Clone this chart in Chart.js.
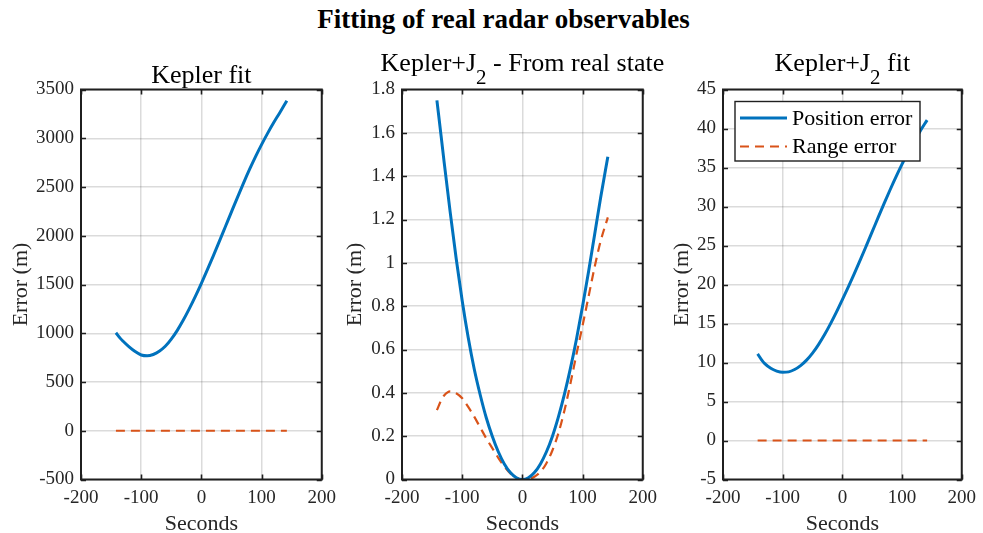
<!DOCTYPE html>
<html>
<head>
<meta charset="utf-8">
<script src="https://cdn.jsdelivr.net/npm/chart.js@4.4.1/dist/chart.umd.min.js"></script>
<style>
    html, body {
        margin: 0;
        padding: 0;
        background: #fff;
        width: 983px;
        height: 533px;
        overflow: hidden;
    }
    #main-title {
        position: absolute;
        left: 12px;
        top: 6px;
        width: 983px;
        text-align: center;
        font-family: 'Liberation Serif', 'Times New Roman', serif;
        font-weight: bold;
        font-size: 27px;
        line-height: 27px;
        color: #000;
    }
    .panel {
        position: absolute;
        top: 0;
        height: 533px;
    }
</style>
</head>
<body>
<div id="main-title">Fitting of real radar observables</div>
<div class="panel" style="left:10px;width:333px"><canvas id="kepler"></canvas></div>
<div class="panel" style="left:344px;width:320px"><canvas id="realstate"></canvas></div>
<div class="panel" style="left:671px;width:312px"><canvas id="j2fit"></canvas></div>

<script>
// time axis (seconds), shared by all three panels
const seconds = [-142, -135, -130, -120, -110, -100, -90, -80, -70, -60, -50, -40, -30, -20, -10,
    0, 10, 20, 30, 40, 50, 60, 70, 80, 90, 100, 110, 120, 130, 142]

// Kepler fit
const keplerPosition = [1005, 950, 918, 860, 812, 777, 768, 782, 815, 866, 940, 1030, 1135, 1252, 1378,
    1512, 1652, 1797, 1945, 2095, 2245, 2394, 2540, 2680, 2812, 2935, 3050, 3158, 3260, 3385]
const keplerRange = [0, 0, 0, 0, 0, 0, 0, 0, 0, 0, 0, 0, 0, 0, 0,
    0, 0, 0, 0, 0, 0, 0, 0, 0, 0, 0, 0, 0, 0, 0]

// Kepler+J2 from real state
const realStatePosition = [1.75, 1.585, 1.465, 1.235, 1.02, 0.825, 0.655, 0.51, 0.39, 0.285, 0.2, 0.128, 0.072, 0.032, 0.008,
    0, 0.008, 0.032, 0.072, 0.128, 0.2, 0.29, 0.395, 0.515, 0.65, 0.80, 0.96, 1.13, 1.30, 1.49]
const realStateRange = [0.32, 0.365, 0.388, 0.407, 0.398, 0.375, 0.335, 0.29, 0.24, 0.19, 0.145, 0.1, 0.06, 0.028, 0.008,
    0, 0.003, 0.013, 0.035, 0.075, 0.135, 0.215, 0.32, 0.445, 0.58, 0.71, 0.845, 0.98, 1.1, 1.21]

// Kepler+J2 fit
const j2Position = [11.1, 10.3, 9.85, 9.25, 8.9, 8.75, 8.8, 9.1, 9.6, 10.3, 11.2, 12.3, 13.55, 14.95, 16.45,
    18.05, 19.7, 21.4, 23.15, 24.95, 26.77, 28.6, 30.4, 32.15, 33.83, 35.43, 36.93, 38.33, 39.63, 41.08]
const j2Range = [0, 0, 0, 0, 0, 0, 0, 0, 0, 0, 0, 0, 0, 0, 0,
    0, 0, 0, 0, 0, 0, 0, 0, 0, 0, 0, 0, 0, 0, 0]

// tick labels
const xTicks = [-200, -100, 0, 100, 200]
const keplerTicks = [-500, 0, 500, 1000, 1500, 2000, 2500, 3000, 3500]
const realStateTicks = [0, 0.2, 0.4, 0.6, 0.8, 1, 1.2, 1.4, 1.6, 1.8]
const j2Ticks = [-5, 0, 5, 10, 15, 20, 25, 30, 35, 40, 45]

const seriesNames = ['Position error', 'Range error']

const serif = "'Liberation Serif', 'Times New Roman', serif"
const blue = '#0072BD'
const orange = '#D95319'
const axisColor = '#1f1f1f'

function fmt(v) {
    return String(parseFloat(Number(v).toFixed(3)))
}

// MATLAB-ish box, inward ticks, subplot title and inner legend
const matlabBox = {
    id: 'matlabBox',
    afterDraw: function(chart, args, opts) {
        const ctx = chart.ctx
        const a = chart.chartArea
        const xs = chart.scales.x
        const ys = chart.scales.y
        ctx.save()

        ctx.strokeStyle = axisColor
        ctx.lineWidth = 1.6
        ctx.beginPath()
        xs.ticks.forEach(function(t) {
            const px = Math.round(xs.getPixelForValue(t.value)) + 0.5
            ctx.moveTo(px, a.bottom); ctx.lineTo(px, a.bottom - 5)
            ctx.moveTo(px, a.top); ctx.lineTo(px, a.top + 5)
        })
        ys.ticks.forEach(function(t) {
            const py = Math.round(ys.getPixelForValue(t.value)) + 0.5
            ctx.moveTo(a.left, py); ctx.lineTo(a.left + 5, py)
            ctx.moveTo(a.right, py); ctx.lineTo(a.right - 5, py)
        })
        ctx.stroke()

        ctx.lineWidth = 2
        ctx.strokeRect(a.left, a.top, a.right - a.left, a.bottom - a.top)

        // title (with optional subscript)
        const t = opts.title
        ctx.fillStyle = '#000'
        ctx.textBaseline = 'alphabetic'
        ctx.textAlign = 'left'
        const big = '26px ' + serif
        const small = '21px ' + serif
        ctx.font = big
        const w1 = ctx.measureText(t.main).width
        const w3 = t.rest ? ctx.measureText(t.rest).width : 0
        ctx.font = small
        const w2 = t.sub ? ctx.measureText(t.sub).width : 0
        let tx = (a.left + a.right) / 2 - (w1 + w2 + w3) / 2
        ctx.font = big
        ctx.fillText(t.main, tx, t.baseline)
        tx += w1
        if (t.sub) {
            ctx.font = small
            ctx.fillText(t.sub, tx, t.baseline + 13)
            tx += w2
        }
        if (t.rest) {
            ctx.font = big
            ctx.fillText(t.rest, tx, t.baseline)
        }

        if (opts.legend) {
            const lx = a.left + 12
            const ly = a.top + 12
            const lw = 185
            const lh = 59.5
            ctx.fillStyle = '#fff'
            ctx.fillRect(lx, ly, lw, lh)
            ctx.strokeStyle = axisColor
            ctx.lineWidth = 1.4
            ctx.strokeRect(lx, ly, lw, lh)
            chart.data.datasets.forEach(function(ds, i) {
                const ry = ly + 16.6 + i * 28.4
                ctx.strokeStyle = ds.borderColor
                ctx.lineWidth = ds.borderWidth
                ctx.setLineDash(ds.borderDash || [])
                ctx.beginPath()
                ctx.moveTo(lx + 5, ry)
                ctx.lineTo(lx + 52, ry)
                ctx.stroke()
                ctx.setLineDash([])
                ctx.fillStyle = '#000'
                ctx.font = '22px ' + serif
                ctx.textBaseline = 'middle'
                ctx.fillText(ds.label, lx + 57, ry + 1)
            })
        }
        ctx.restore()
    }
}

function points(ys) {
    return seconds.map(function(s, i) {
        return {x: s, y: ys[i]}
    })
}

function makeChart(id, cfg) {
    const ctx = document.getElementById(id).getContext('2d')
    return new Chart(ctx, {
        type: 'scatter',
        data: {
            datasets: [{
                label: seriesNames[0],
                data: points(cfg.position),
                showLine: true,
                borderColor: blue,
                borderWidth: 3,
                pointRadius: 0,
                cubicInterpolationMode: 'monotone'
            }, {
                label: seriesNames[1],
                data: points(cfg.range),
                showLine: true,
                borderColor: orange,
                borderWidth: 2.2,
                borderDash: [9, 6],
                pointRadius: 0,
                cubicInterpolationMode: 'monotone'
            }]
        },
        plugins: [matlabBox],
        options: {
            responsive: true,
            maintainAspectRatio: false,
            animation: false,
            layout: {
                padding: {top: 89.5, right: cfg.padRight, bottom: 0, left: 0}
            },
            plugins: {
                legend: {display: false},
                tooltip: {enabled: false},
                matlabBox: {title: cfg.title, legend: cfg.legend}
            },
            scales: {
                x: {
                    type: 'linear',
                    min: xTicks[0],
                    max: xTicks[xTicks.length - 1],
                    afterBuildTicks: function(s) {
                        s.ticks = xTicks.map(function(v) { return {value: v} })
                    },
                    afterFit: function(s) { s.height = 53.5 },
                    grid: {color: 'rgba(0,0,0,0.14)', lineWidth: 1.5, drawTicks: false},
                    border: {display: false},
                    ticks: {
                        padding: 7,
                        color: '#262626',
                        maxRotation: 0,
                        autoSkip: false,
                        font: {family: serif, size: 19},
                        callback: fmt
                    },
                    title: {
                        display: true,
                        text: 'Seconds',
                        color: '#262626',
                        padding: 0,
                        font: {family: serif, size: 22, lineHeight: 0.82}
                    }
                },
                y: {
                    min: cfg.yTicks[0],
                    max: cfg.yTicks[cfg.yTicks.length - 1],
                    afterBuildTicks: function(s) {
                        s.ticks = cfg.yTicks.map(function(v) { return {value: v} })
                    },
                    afterFit: function(s) { s.width = cfg.yWidth },
                    grid: {color: 'rgba(0,0,0,0.14)', lineWidth: 1.5, drawTicks: false},
                    border: {display: false},
                    ticks: {
                        padding: 7,
                        color: '#262626',
                        autoSkip: false,
                        font: {family: serif, size: 19},
                        callback: fmt
                    },
                    title: {
                        display: true,
                        text: 'Error (m)',
                        color: '#262626',
                        padding: 0,
                        font: {family: serif, size: 22, lineHeight: 1}
                    }
                }
            }
        }
    })
}

makeChart('kepler', {
    position: keplerPosition,
    range: keplerRange,
    yTicks: keplerTicks,
    yWidth: 71,
    padRight: 20,
    title: {main: 'Kepler fit', baseline: 82.5}
})

makeChart('realstate', {
    position: realStatePosition,
    range: realStateRange,
    yTicks: realStateTicks,
    yWidth: 58,
    padRight: 20,
    title: {main: 'Kepler+J', sub: '2', rest: ' - From real state', baseline: 71}
})

makeChart('j2fit', {
    position: j2Position,
    range: j2Range,
    yTicks: j2Ticks,
    yWidth: 52,
    padRight: 17,
    title: {main: 'Kepler+J', sub: '2', rest: ' fit', baseline: 71},
    legend: true
})
</script>
</body>
</html>
